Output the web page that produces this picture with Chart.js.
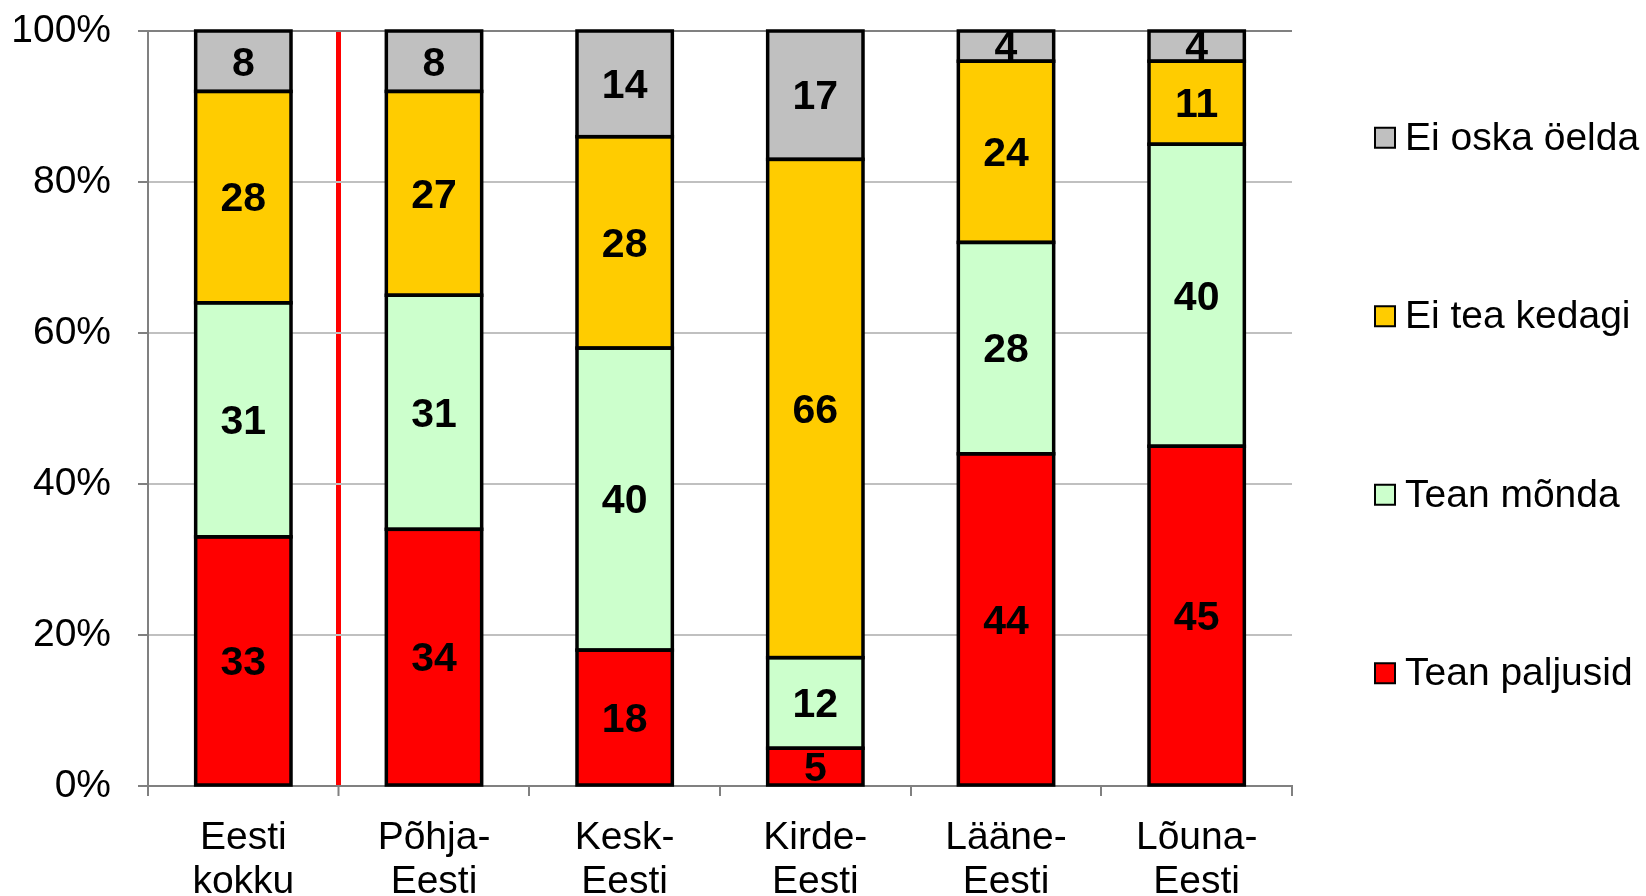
<!DOCTYPE html>
<html>
<head>
<meta charset="utf-8">
<script src="https://cdn.jsdelivr.net/npm/chart.js@4"></script>
<style>
  body { margin: 0; background: #fff; }
  #wrap { width: 1646px; height: 896px; }
</style>
</head>
<body>
<div id="wrap"><canvas id="bieudo"></canvas></div>
<script>
const piirkonnad = [["Eesti", "kokku"], ["Põhja-", "Eesti"], ["Kesk-", "Eesti"], ["Kirde-", "Eesti"], ["Lääne-", "Eesti"], ["Lõuna-", "Eesti"]];
const teanPaljusid = [33, 34, 18, 5, 44, 45];
const teanMonda = [31, 31, 40, 12, 28, 40];
const eiTeaKedagi = [28, 27, 28, 66, 24, 11];
const eiOskaOelda = [8, 8, 14, 17, 4, 4];
const yTicks = [0, 20, 40, 60, 80, 100];

Chart.defaults.font.family = "'Liberation Sans', Arial, sans-serif";
Chart.defaults.color = "#000";

// mustad ääred (ühine joon segmentide vahel) ja arvud tulpade keskele
const vaartused = {
  id: "vaartused",
  afterDatasetsDraw(chart) {
    const ctx = chart.ctx;
    ctx.save();
    ctx.lineWidth = 3.5;
    ctx.strokeStyle = "#000";
    chart.data.datasets.forEach((ds, i) => {
      chart.getDatasetMeta(i).data.forEach(bar => {
        const top = Math.min(bar.y, bar.base);
        ctx.strokeRect(bar.x - bar.width / 2, top, bar.width, Math.abs(bar.base - bar.y));
      });
    });
    ctx.font = "bold 41px 'Liberation Sans', Arial, sans-serif";
    ctx.fillStyle = "#000";
    ctx.textAlign = "center";
    ctx.textBaseline = "middle";
    chart.data.datasets.forEach((ds, i) => {
      chart.getDatasetMeta(i).data.forEach((bar, j) => {
        const p = bar.getCenterPoint();
        ctx.fillText(ds.data[j], p.x, p.y + 3);
      });
    });
    ctx.restore();
  }
};

// legend paremal, suured vahed
const legend = {
  id: "minuLegend",
  afterDraw(chart) {
    const ctx = chart.ctx;
    const area = chart.chartArea;
    const ds = chart.data.datasets.slice().reverse();
    const samm = 178.5;
    const keskel = (area.top + area.bottom) / 2 - 3;
    const x = area.right + 83;
    ctx.save();
    ctx.font = "39px 'Liberation Sans', Arial, sans-serif";
    ctx.textBaseline = "middle";
    ctx.textAlign = "left";
    ds.forEach((d, i) => {
      const y = keskel + (i - (ds.length - 1) / 2) * samm;
      ctx.fillStyle = d.backgroundColor;
      ctx.fillRect(x, y - 10, 20, 20);
      ctx.lineWidth = 2;
      ctx.strokeStyle = "#000";
      ctx.strokeRect(x, y - 10, 20, 20);
      ctx.fillStyle = "#000";
      ctx.fillText(d.label, x + 30, y + 1);
    });
    ctx.restore();
  }
};

const ctx = document.getElementById("bieudo").getContext("2d");
new Chart(ctx, {
  type: "bar",
  data: {
    labels: piirkonnad,
    datasets: [
      { label: "Tean paljusid", data: teanPaljusid, backgroundColor: "#FF0000" },
      { label: "Tean mõnda", data: teanMonda, backgroundColor: "#CCFFCC" },
      { label: "Ei tea kedagi", data: eiTeaKedagi, backgroundColor: "#FFCC00" },
      { label: "Ei oska öelda", data: eiOskaOelda, backgroundColor: "#C0C0C0" }
    ].map(d => Object.assign(d, {
      borderWidth: 0,
      inflateAmount: 0,
      barPercentage: 0.5,
      categoryPercentage: 1
    }))
  },
  options: {
    responsive: true,
    maintainAspectRatio: false,
    animation: false,
    layout: { padding: { top: 31, right: 354, left: 0, bottom: 0 } },
    plugins: {
      legend: { display: false },
      tooltip: { enabled: false }
    },
    scales: {
      x: {
        stacked: true,
        afterFit(s) { s.height = 110; },
        border: { color: "#808080", width: 2 },
        grid: {
          offset: true,
          color: c => c.index === 1 ? "#FF0000" : (c.index === 6 ? "#808080" : "rgba(0,0,0,0)"),
          lineWidth: c => c.index === 1 ? 5 : 2,
          tickColor: "#808080",
          tickWidth: 2,
          tickLength: 10
        },
        ticks: {
          font: { size: 39, lineHeight: 1.13 },
          padding: 20,
          maxRotation: 0
        }
      },
      y: {
        stacked: true,
        min: 0,
        max: 100,
        afterFit(s) { s.width = 148; s.paddingTop = 0; s.paddingBottom = 0; },
        afterBuildTicks(s) { s.ticks = yTicks.map(v => ({ value: v })); },
        border: { color: "#808080", width: 2 },
        grid: {
          color: c => c.tick && c.tick.value === 100 ? "#808080" : "#C0C0C0",
          lineWidth: 2,
          tickColor: "#808080",
          tickLength: 10
        },
        ticks: {
          font: { size: 39 },
          padding: 27,
          callback: v => v + "%"
        }
      }
    }
  },
  plugins: [vaartused, legend]
});
</script>
</body>
</html>
